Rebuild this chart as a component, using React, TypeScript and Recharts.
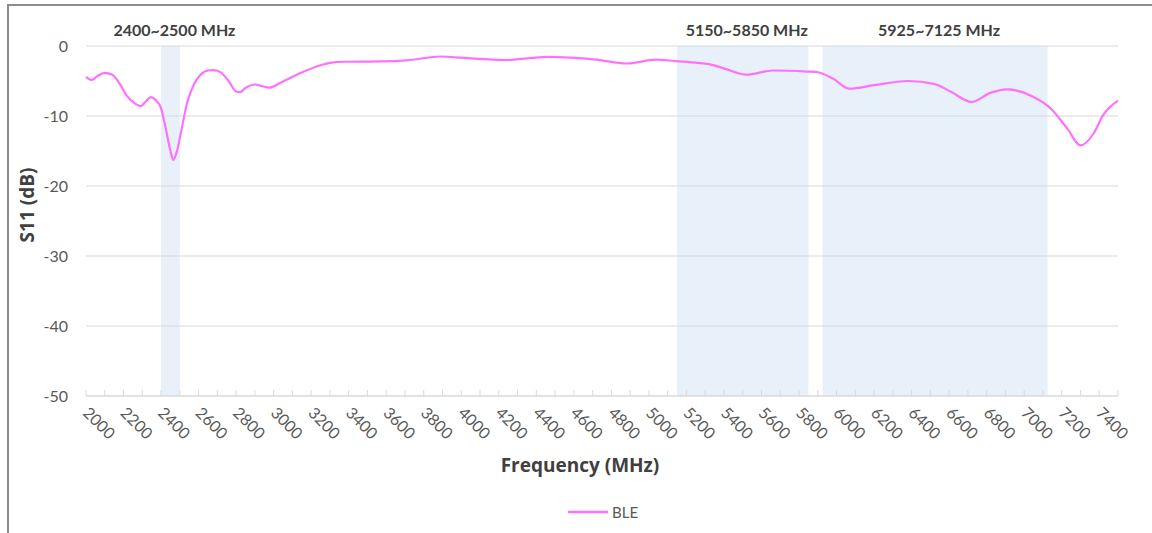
import { LineChart, Line, XAxis, YAxis, CartesianGrid, ReferenceArea } from 'recharts'

const freqs = [
  2000, 2030, 2060, 2100, 2140, 2180, 2220, 2260, 2290, 2320, 2345, 2370, 2400, 2425, 2450,
  2465, 2485, 2510, 2540, 2575, 2610, 2650, 2680, 2720, 2760, 2800, 2820, 2850, 2900, 2940,
  2975, 3040, 3140, 3250, 3300, 3380, 3570, 3710, 3890, 4010, 4240, 4460, 4720, 4880, 5040,
  5140, 5260, 5320, 5400, 5520, 5660, 5840, 5900, 5980, 6070, 6200, 6380, 6520, 6610, 6720,
  6820, 6910, 7050, 7140, 7230, 7300, 7370, 7420, 7500,
]

const bleS11 = [
  -4.4, -4.85, -4.3, -3.85, -4.1, -5.4, -7.2, -8.2, -8.6, -7.9, -7.3, -7.7, -8.9, -11.8, -15.0,
  -16.3, -15.0, -11.8, -8.0, -5.5, -4.1, -3.5, -3.45, -3.8, -5.0, -6.5, -6.6, -6.0, -5.5, -5.75,
  -5.95, -5.2, -3.9, -2.75, -2.4, -2.25, -2.2, -2.05, -1.5, -1.7, -2.0, -1.55, -1.95, -2.5, -1.95,
  -2.15, -2.4, -2.6, -3.2, -4.1, -3.5, -3.65, -3.75, -4.65, -6.1, -5.6, -5.0, -5.4, -6.55, -8.0,
  -6.7, -6.2, -7.3, -8.9, -11.8, -14.2, -12.5, -9.9, -7.8,
]

const xTicks = [
  2000, 2100, 2200, 2300, 2400, 2500, 2600, 2700, 2800, 2900, 3000, 3100, 3200, 3300, 3400,
  3500, 3600, 3700, 3800, 3900, 4000, 4100, 4200, 4300, 4400, 4500, 4600, 4700, 4800, 4900,
  5000, 5100, 5200, 5300, 5400, 5500, 5600, 5700, 5800, 5900, 6000, 6100, 6200, 6300, 6400,
  6500, 6600, 6700, 6800, 6900, 7000, 7100, 7200, 7300, 7400, 7500,
]
const xLabels = [
  2000, 2200, 2400, 2600, 2800, 3000, 3200, 3400, 3600, 3800, 4000, 4200, 4400, 4600, 4800,
  5000, 5200, 5400, 5600, 5800, 6000, 6200, 6400, 6600, 6800, 7000, 7200, 7400,
]
const yTicks = [0, -10, -20, -30, -40, -50]

const bandStarts = [2400, 5150, 5925]
const bandEnds = [2500, 5850, 7125]
const bandNames = ['2400~2500 MHz', '5150~5850 MHz', '5925~7125 MHz']

const data = freqs.map((f, i) => ({ freq: f, ble: bleS11[i] }))

const FONT = 'Lato, "Open Sans", sans-serif'
const TITLE_FONT = '"Open Sans", Lato, sans-serif'
const LINE_COLOR = '#ff70ff'

function FreqTick(props: any) {
  const { x, y, payload } = props
  const showLabel = xLabels.includes(payload.value)
  return (
    <g>
      <line x1={x} x2={x} y1={y - 6} y2={y} stroke="#d9d9d9" />
      {showLabel && (
        <text
          x={x - 4}
          y={y + 18}
          transform={`rotate(45 ${x - 4} ${y + 18})`}
          textAnchor="start"
          fill="#595959"
          fontSize={16}
          fontFamily={FONT}
        >
          {payload.value}
        </text>
      )}
    </g>
  )
}

function BandLabel(props: any) {
  const { viewBox, value } = props
  if (!viewBox) return null
  return (
    <text
      x={viewBox.x + viewBox.width / 2 + 4}
      y={viewBox.y - 10}
      textAnchor="middle"
      fill="#404040"
      fontSize={16}
      fontWeight="bold"
      fontFamily={FONT}
    >
      {value}
    </text>
  )
}

export default function App() {
  return (
    <div
      style={{
        position: 'fixed',
        left: 0,
        top: 0,
        width: 1152,
        height: 533,
        background: '#fff',
        overflow: 'hidden',
      }}
    >
      <div
        style={{
          position: 'absolute',
          left: 7,
          top: 4,
          width: 1200,
          height: 600,
          borderLeft: '2px solid #8c8c8c',
          borderTop: '2px solid #8c8c8c',
        }}
      />
      <div style={{ position: 'absolute', left: 0, top: 0 }}>
        <LineChart
          width={1152}
          height={533}
          data={data}
          margin={{ top: 46, right: 34, bottom: 0, left: 0 }}
        >
          <CartesianGrid vertical={false} stroke="#d9d9d9" />
          {bandStarts.map((s, i) => (
            <ReferenceArea
              key={bandNames[i]}
              x1={s}
              x2={bandEnds[i]}
              y1={-50}
              y2={0}
              fill="#c6dbf0"
              fillOpacity={0.4}
              stroke="none"
              label={<BandLabel value={bandNames[i]} />}
            />
          ))}
          <XAxis
            dataKey="freq"
            type="number"
            domain={[2000, 7500]}
            ticks={xTicks}
            interval={0}
            height={137}
            tickSize={0}
            tickMargin={0}
            tickLine={false}
            stroke="#d9d9d9"
            tick={<FreqTick />}
            label={(p: any) => {
              const vb = p.viewBox
              return (
                <text
                  x={vb.x + vb.width / 2 - 22}
                  y={vb.y + 76}
                  textAnchor="middle"
                  fill="#404040"
                  fontSize={19}
                  fontWeight="bold"
                  fontFamily={TITLE_FONT}
                >
                  Frequency (MHz)
                </text>
              )
            }}
          />
          <YAxis
            type="number"
            domain={[-50, 0]}
            ticks={yTicks}
            width={86}
            axisLine={false}
            tickLine={false}
            tickSize={0}
            tickMargin={18}
            tick={{ fill: '#595959', fontSize: 16, fontFamily: FONT }}
            label={(p: any) => {
              const vb = p.viewBox
              const cy = vb.y + vb.height / 2 - 16
              return (
                <text
                  x={27}
                  y={cy}
                  transform={`rotate(-90 27 ${cy})`}
                  textAnchor="middle"
                  dominantBaseline="central"
                  fill="#404040"
                  fontSize={19}
                  fontWeight="bold"
                  fontFamily={TITLE_FONT}
                >
                  S11 (dB)
                </text>
              )
            }}
          />
          <Line
            type="monotone"
            dataKey="ble"
            stroke={LINE_COLOR}
            strokeWidth={2.2}
            dot={false}
            isAnimationActive={false}
          />
        </LineChart>
      </div>
      <div
        style={{
          position: 'absolute',
          left: 566,
          top: 503,
          display: 'flex',
          alignItems: 'center',
          fontFamily: FONT,
          fontSize: 15,
          color: '#595959',
        }}
      >
        <svg width={44} height={16}>
          <line x1={2} x2={42} y1={8} y2={8} stroke={LINE_COLOR} strokeWidth={2.5} />
        </svg>
        <span style={{ marginLeft: 2 }}>BLE</span>
      </div>
    </div>
  )
}
